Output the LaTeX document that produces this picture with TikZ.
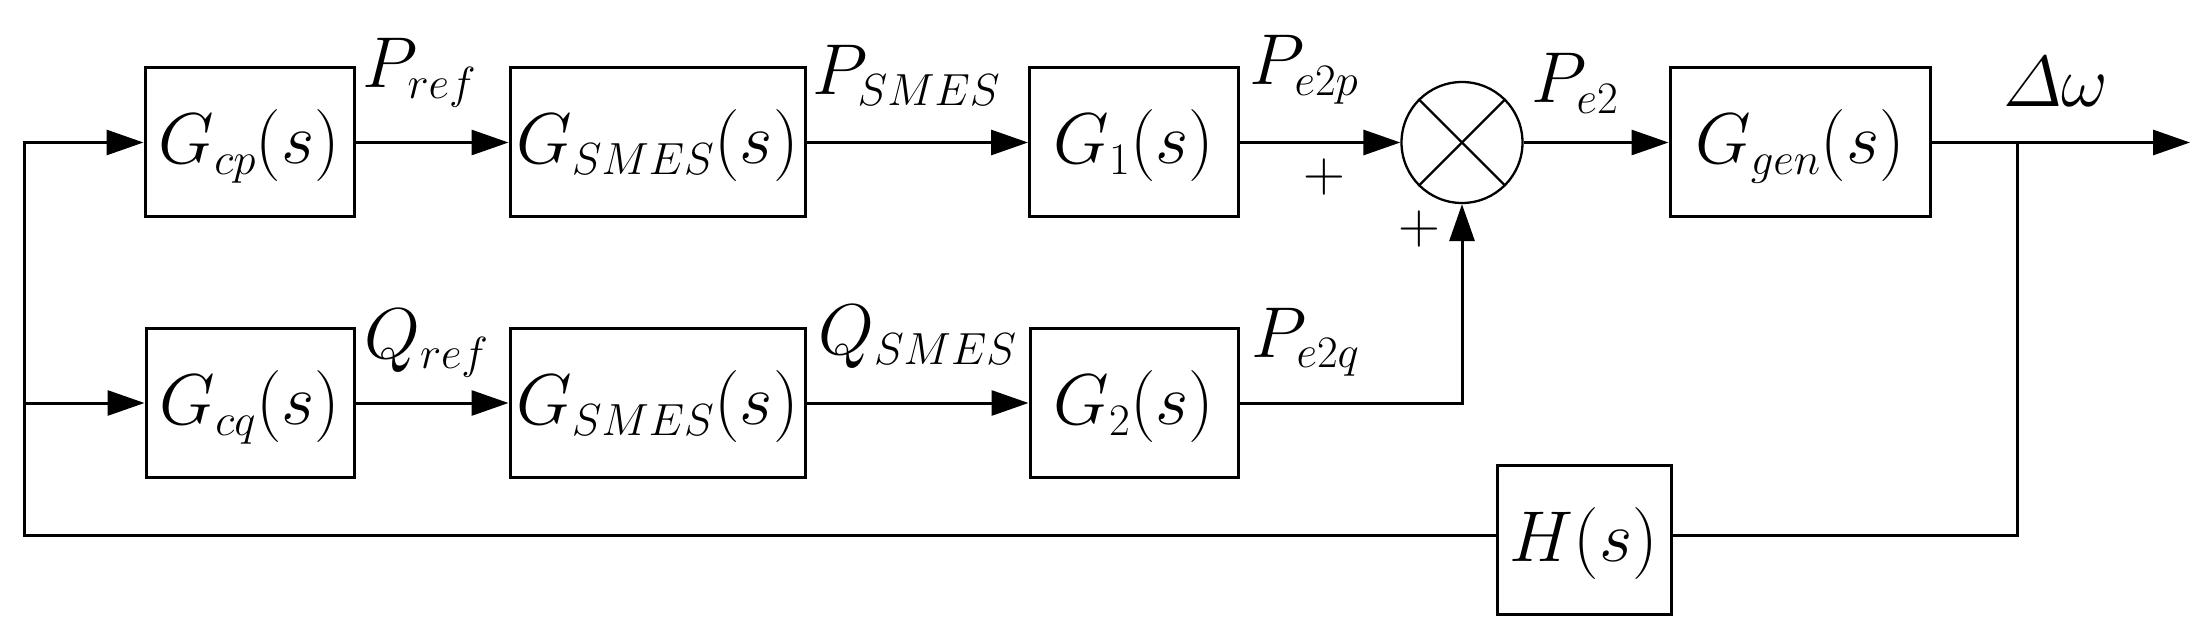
\RequirePackage{fix-cm}
\documentclass[tikz,border=0pt]{standalone}
\usepackage{amsmath}
\usetikzlibrary{arrows.meta}
\DeclareMathSizes{72}{72}{45}{34}
\DeclareMathSizes{58}{58}{40}{29}
\newcommand{\msz}{\fontsize{72}{84}\selectfont}
\begin{document}
\begin{tikzpicture}[x=1pt,y=-1pt,
  every node/.style={font=\msz},
  blk/.style={draw, line width=3pt, inner sep=0pt, minimum height=149pt, text height=54pt, text depth=11pt},
  lbl/.style={anchor=base west, inner sep=0pt},
  pl/.style={inner sep=0pt, font=\fontsize{58}{66}\selectfont},
  wire/.style={line width=3pt},
  arr/.style={line width=3pt, -{Triangle[length=37pt,width=25pt]}}]
\useasboundingbox (0,0) rectangle (2210,644);
% blocks
\node[blk, minimum width=209pt] (Gcp) at (249.5,142.5) {$G_{cp}(s)$};
\node[blk, minimum width=295pt] (Gs1) at (657.5,142.5) {$G_{SMES}(s)$};
\node[blk, minimum width=209pt] (G1) at (1134,142.5) {$G_{1}(s)$};
\node[blk, minimum width=260pt] (Gg) at (1800,142.5) {$G_{gen}(s)$};
\node[blk, minimum width=208pt] (Gcq) at (250,403) {$G_{cq}(s)$};
\node[blk, minimum width=295pt] (Gs2) at (657.5,403) {$G_{SMES}(s)$};
\node[blk, minimum width=208pt] (G2) at (1134,403) {$G_{2}(s)$};
\node[blk, minimum width=174pt] (H) at (1584,539.5) {$H(s)$};
% summing junction
\node[draw, circle, line width=2.3pt, minimum size=121pt, inner sep=0pt] (sum) at (1462,142.5) {};
\draw[line width=2.3pt] (sum.north west) -- (sum.south east);
\draw[line width=2.3pt] (sum.north east) -- (sum.south west);
% coordinates
\coordinate (lt) at (24.5,142.5);
\coordinate (lm) at (24.5,403);
\coordinate (br) at (2017,142.5);
\coordinate (out) at (2190,142.5);
% connectors
\draw[arr] (Gcp) -- (Gs1);
\draw[arr] (Gs1) -- (G1);
\draw[arr] (G1) -- (sum);
\draw[arr] (sum) -- (Gg);
\draw[arr] (Gg) -- (out);
\draw[arr] (Gcq) -- (Gs2);
\draw[arr] (Gs2) -- (G2);
\draw[arr] (G2.east) -| (sum.south);
\draw[wire] (br) |- ([yshift=4.5pt]H.east);
\draw[arr] ([yshift=4.5pt]H.west) -| (lt) -- (Gcp.west);
\draw[arr] (lm) -- (Gcq.west);
% labels
\node[lbl] (lPref) at (362,88) {$P_{ref}$};
\node[lbl] (lPs) at (812,95) {$P_{SMES}$};
\node[lbl] (lPe2p) at (1249,85) {$P_{e2p}$};
\node[lbl] (lPe2) at (1531,103) {$P_{e2}$};
\node[lbl] (ldw) at (2003,107) {$\varDelta\omega$};
\node[lbl] (lQref) at (364,358) {$Q_{ref}$};
\node[lbl] (lQs) at (818,354) {$Q_{SMES}$};
\node[lbl] (lPe2q) at (1251,357) {$P_{e2q}$};
% signs
\node[pl] (p1) at (1324,177) {$+$};
\node[pl] (p2) at (1419.5,229.5) {$+$};
\end{tikzpicture}
\end{document}
